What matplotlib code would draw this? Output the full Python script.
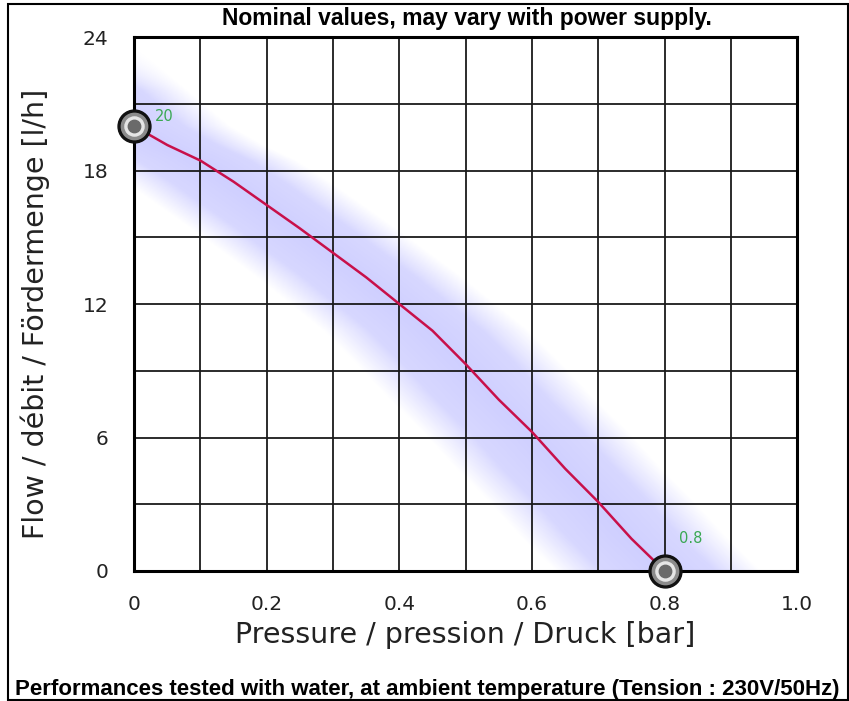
import numpy as np
import matplotlib
matplotlib.use('Agg')
import matplotlib.pyplot as plt
from matplotlib.patches import Rectangle

# data
pressure = [0.0, 0.05, 0.1, 0.15, 0.2, 0.25, 0.3, 0.35, 0.4, 0.45, 0.5, 0.55, 0.6, 0.65, 0.7, 0.75, 0.8]
flow = [20.0, 19.15, 18.45, 17.5, 16.45, 15.4, 14.3, 13.2, 12.0, 10.8, 9.3, 7.7, 6.25, 4.6, 3.1, 1.45, 0.0]
x_ticks = [0, 0.2, 0.4, 0.6, 0.8, 1.0]
x_tick_labels = ['0', '0.2', '0.4', '0.6', '0.8', '1.0']
y_ticks = [0, 6, 12, 18, 24]
marker_labels = ['20', '0.8']

fig = plt.figure(figsize=(8.49, 7.01), dpi=100)
ax = fig.add_axes([0.158, 0.1855, 0.781, 0.7615])

# soft blue band following the curve
xs = np.linspace(0, 1.0, 600)
ys = np.linspace(0, 24, 600)
X, Y = np.meshgrid(xs, ys)
xc = np.interp(Y, flow[::-1], pressure[::-1])
xc = np.where(Y > 20, -(Y - 20) * 0.04, xc)
d = np.abs(X - (xc - 0.01))
alpha = np.clip((0.155 - d) / 0.07, 0, 1)
alpha = alpha * (0.8 + 0.2 * np.clip((0.1 - d) / 0.1, 0, 1))
alpha *= np.clip((23.8 - Y) / 2.2, 0, 1)
img = np.zeros(X.shape + (4,))
img[..., 0] = 0.70
img[..., 1] = 0.70
img[..., 2] = 1.0
img[..., 3] = alpha * 0.62
ax.imshow(img, origin='lower', extent=[0, 1.0, 0, 24], aspect='auto', zorder=0, interpolation='bilinear')

# grid
for gx in np.arange(0.1, 1.0, 0.1):
    ax.axvline(gx, color='#1a1a1a', lw=1.3, zorder=1)
for gy in np.arange(3, 24, 3):
    ax.axhline(gy, color='#1a1a1a', lw=1.3, zorder=1)

ax.plot(pressure, flow, color='#c8104a', lw=1.8, zorder=3)

# end point markers
for px, py in [(pressure[0], flow[0]), (pressure[-1], flow[-1])]:
    ax.scatter([px], [py], s=560, color='#111111', zorder=5, clip_on=False)
    ax.scatter([px], [py], s=360, color='#8c8c8c', zorder=6, clip_on=False)
    ax.scatter([px], [py], s=190, color='#e6e6e6', zorder=7, clip_on=False)
    ax.scatter([px], [py], s=80, color='#6a6a6a', zorder=8, clip_on=False)
ax.text(0.032, 20.25, marker_labels[0], color='#3aa853', fontsize=10.5, zorder=9)
ax.text(0.822, 1.25, marker_labels[1], color='#3aa853', fontsize=10.5, zorder=9)

ax.set_xlim(0, 1.0)
ax.set_ylim(0, 24)
ax.set_xticks(x_ticks)
ax.set_xticklabels(x_tick_labels)
ax.set_yticks(y_ticks)
ax.tick_params(length=0, labelsize=14.5, colors='#222222')
ax.tick_params(axis='x', pad=17)
ax.tick_params(axis='y', pad=18.5)
for s in ax.spines.values():
    s.set_linewidth(2.2)
    s.set_zorder(4)

ax.set_xlabel('Pressure / pression / Druck [bar]', fontsize=20.5, color='#222222')
ax.set_ylabel('Flow / débit / Fördermenge [l/h]', fontsize=20.5, color='#222222')
ax.xaxis.set_label_coords(0.5, -0.093)
ax.yaxis.set_label_coords(-0.127, 0.481)

bold_font = ['Liberation Sans', 'DejaVu Sans']
fig.text(0.55, 0.974, 'Nominal values, may vary with power supply.', ha='center', va='center',
         fontsize=16.5, fontweight='bold', family=bold_font)
fig.text(0.503, 0.017, 'Performances tested with water, at ambient temperature (Tension : 230V/50Hz)',
         ha='center', va='center', fontsize=16, fontweight='bold', family=bold_font)

fig.patches.append(Rectangle((0.009, 0.001), 0.99, 0.993, transform=fig.transFigure,
                             fill=False, lw=1.5, edgecolor='black'))

fig.savefig('out.png', dpi=100)
